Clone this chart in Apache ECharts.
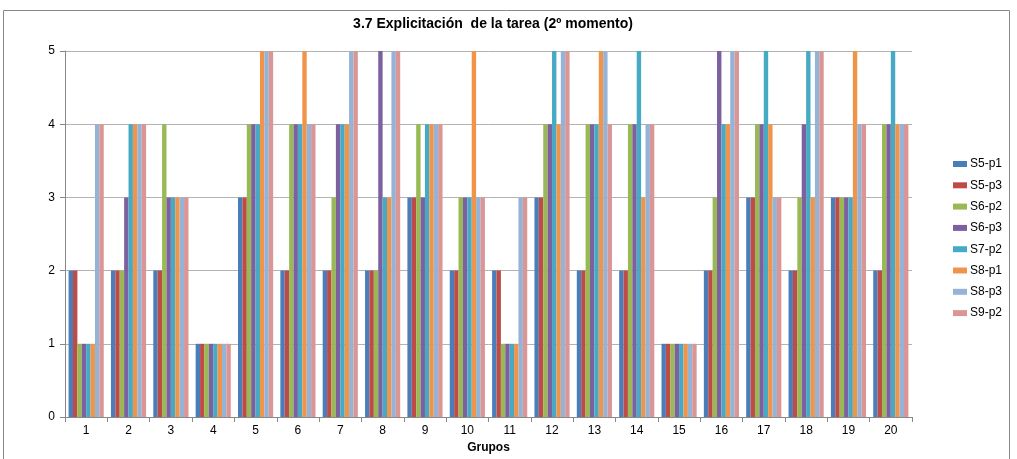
<!DOCTYPE html>
<html>
<head>
<meta charset="utf-8">
<script src="https://cdn.jsdelivr.net/npm/echarts@6/dist/echarts.min.js"></script>
<style>
  html, body { margin: 0; padding: 0; background: #fff; overflow: hidden; }
  #chart { width: 1017px; height: 459px; }
</style>
</head>
<body>
<div id="chart"></div>
<script>
// Groups on the x axis
const grupos = ['1','2','3','4','5','6','7','8','9','10','11','12','13','14','15','16','17','18','19','20'];

// Scores per group for each session/item
const s5p1 = [2,2,2,1,3,2,2,2,3,2,2,3,2,2,1,2,3,2,3,2];
const s5p3 = [2,2,2,1,3,2,2,2,3,2,2,3,2,2,1,2,3,2,3,2];
const s6p2 = [1,2,4,1,4,4,3,2,4,3,1,4,4,4,1,3,4,3,3,4];
const s6p3 = [1,3,3,1,4,4,4,5,3,3,1,4,4,4,1,5,4,4,3,4];
const s7p2 = [1,4,3,1,4,4,4,3,4,3,1,5,4,5,1,4,5,5,3,5];
const s8p1 = [1,4,3,1,5,5,4,3,4,5,1,4,5,3,1,4,4,3,5,4];
const s8p3 = [4,4,3,1,5,4,5,5,4,3,3,5,5,4,1,5,3,5,4,4];
const s9p2 = [4,4,3,1,5,4,5,5,4,3,3,5,4,4,1,5,3,5,4,4];

const seriesNames = ['S5-p1','S5-p3','S6-p2','S6-p3','S7-p2','S8-p1','S8-p3','S9-p2'];
const seriesData = [s5p1, s5p3, s6p2, s6p3, s7p2, s8p1, s8p3, s9p2];
const colors = ['#4a7ebb','#be4b48','#98b954','#7d60a0','#46aac5','#f0944a','#95b3d7','#d99694'];

const yTicks = [0,1,2,3,4,5];

const chart = echarts.init(document.getElementById('chart'), null, { renderer: 'canvas' });

const font = 'Liberation Sans, Arial, sans-serif';

chart.setOption({
  animation: false,
  color: colors,
  textStyle: { fontFamily: font },
  title: {
    text: '3.7 Explicitación  de la tarea (2º momento)',
    left: 488,
    top: 12,
    textAlign: 'center',
    textStyle: { fontFamily: font, fontSize: 14, fontWeight: 'bold', color: '#000' }
  },
  graphic: [{
    type: 'rect',
    shape: { x: 3.5, y: 10.5, width: 1006, height: 460 },
    style: { fill: 'none', stroke: '#888', lineWidth: 1 },
    silent: true,
    z: -1
  }],
  legend: {
    orient: 'vertical',
    left: 948,
    top: 153,
    itemWidth: 14,
    itemHeight: 6,
    itemGap: 9.3,
    icon: 'rect',
    textStyle: { fontFamily: font, fontSize: 12, color: '#000', padding: [0, 0, 0, -2] },
    data: seriesNames
  },
  grid: { left: 65, right: 105, top: 51, bottom: 37, containLabel: false },
  xAxis: {
    type: 'category',
    data: grupos,
    name: 'Grupos',
    nameLocation: 'middle',
    nameGap: 25,
    nameTextStyle: { fontFamily: font, fontSize: 12, fontWeight: 'bold', color: '#000' },
    axisLine: { show: true, lineStyle: { color: '#888', width: 1 } },
    axisTick: { show: true, length: 5, lineStyle: { color: '#888' } },
    axisLabel: { fontFamily: font, fontSize: 12, color: '#000', margin: 8 }
  },
  yAxis: {
    type: 'value',
    min: 0,
    max: 5,
    interval: 1,
    axisLine: { show: true, lineStyle: { color: '#888', width: 1 } },
    axisTick: { show: true, length: 5, lineStyle: { color: '#888' } },
    axisLabel: {
      fontFamily: font, fontSize: 12, color: '#000', margin: 10,
      formatter: v => yTicks.includes(v) ? String(v) : ''
    },
    splitLine: { show: true, lineStyle: { color: '#b3b3b3', width: 1 } }
  },
  series: seriesNames.map((name, i) => ({
    name: name,
    type: 'bar',
    data: seriesData[i],
    barGap: '0%',
    barCategoryGap: '17%',
    itemStyle: { color: colors[i] }
  }))
});
</script>
</body>
</html>
